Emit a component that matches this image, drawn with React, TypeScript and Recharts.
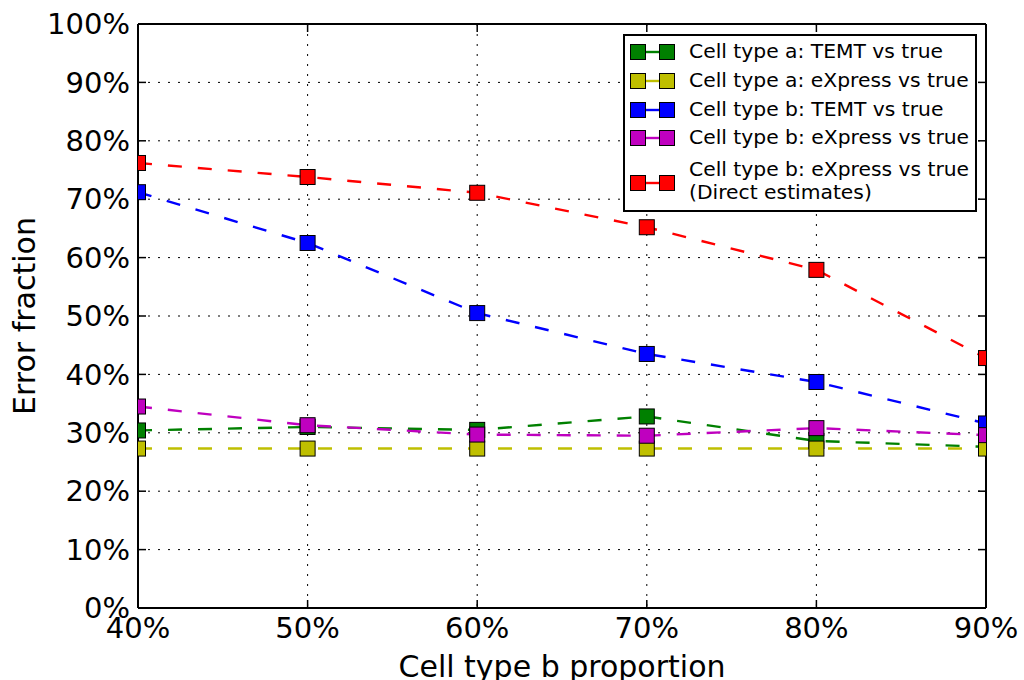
import { LineChart, Line, XAxis, YAxis, CartesianGrid } from "recharts";

const FONT = "'DejaVu Sans', sans-serif";

// Cell type b proportion (%)
const proportions = [40, 50, 60, 70, 80, 90];
const yTicks = [0, 10, 20, 30, 40, 50, 60, 70, 80, 90, 100];

// error fraction (%)
const aTemt = [30.4, 31.0, 30.5, 32.8, 28.6, 27.6];
const aExpress = [27.3, 27.3, 27.3, 27.3, 27.3, 27.3];
const bTemt = [71.2, 62.5, 50.5, 43.5, 38.7, 31.6];
const bExpress = [34.5, 31.3, 29.7, 29.5, 30.8, 29.6];
const bDirect = [76.2, 73.8, 71.1, 65.2, 57.9, 42.8];

const series = [
  { key: "aTemt", label: ["Cell type a: TEMT vs true"], color: "#008000", values: aTemt },
  { key: "aExpress", label: ["Cell type a: eXpress vs true"], color: "#bfbf00", values: aExpress },
  { key: "bTemt", label: ["Cell type b: TEMT vs true"], color: "#0000ff", values: bTemt },
  { key: "bExpress", label: ["Cell type b: eXpress vs true"], color: "#bf00bf", values: bExpress },
  {
    key: "bDirect",
    label: ["Cell type b: eXpress vs true", "(Direct estimates)"],
    color: "#ff0000",
    values: bDirect,
  },
];

const data = proportions.map((p, i) => {
  const row: Record<string, number> = { p };
  series.forEach((s) => (row[s.key] = s.values[i]));
  return row;
});

const pct = (v: number) => `${v}%`;

const square = (color: string) => (props: any) => {
  const { cx, cy, index } = props;
  if (cx == null || cy == null) return <g key={`d-${index}`} />;
  return (
    <rect
      key={`d-${index}`}
      x={cx - 7.5}
      y={cy - 7.5}
      width={15}
      height={15}
      fill={color}
      stroke="#000"
      strokeWidth={1}
    />
  );
};

const tickStyle = { fill: "#000", fontSize: 29, fontFamily: FONT };
const axisLine = { stroke: "#000", strokeWidth: 2 };
const tickLine = { stroke: "#000", strokeWidth: 1.5 };

// row centres inside the legend box
const rowTops = [16, 45, 74, 102, 134];

function LegendBox() {
  return (
    <div
      style={{
        position: "absolute",
        left: 623,
        top: 34,
        width: 354,
        height: 178,
        boxSizing: "border-box",
        border: "2px solid #000",
        background: "#fff",
        fontFamily: FONT,
        fontSize: 20.3,
        color: "#000",
      }}
    >
      {series.map((s, i) => {
        const markerY = s.label.length > 1 ? 147 : rowTops[i];
        return (
          <div key={s.key}>
            <svg
              width={46}
              height={18}
              style={{ position: "absolute", left: 5, top: markerY - 9 }}
            >
              <line x1={8} y1={9} x2={37} y2={9} stroke={s.color} strokeWidth={2.4} />
              <rect x={0.5} y={1.5} width={15} height={15} fill={s.color} stroke="#000" />
              <rect x={29.5} y={1.5} width={15} height={15} fill={s.color} stroke="#000" />
            </svg>
            <div
              style={{
                position: "absolute",
                left: 64,
                top: rowTops[i] - 12,
                lineHeight: "23px",
                whiteSpace: "nowrap",
              }}
            >
              {s.label.map((t) => (
                <div key={t}>{t}</div>
              ))}
            </div>
          </div>
        );
      })}
    </div>
  );
}

export default function App() {
  return (
    <div
      style={{
        position: "absolute",
        left: 0,
        top: 0,
        width: 1024,
        height: 680,
        overflow: "hidden",
        background: "#fff",
      }}
    >
      <LineChart width={1024} height={680} data={data} margin={{ top: 0, right: 0, bottom: 0, left: 0 }}>
        <XAxis
          dataKey="p"
          type="number"
          domain={[40, 90]}
          ticks={proportions}
          allowDataOverflow
          interval={0}
          tickFormatter={pct}
          height={72}
          tickSize={-8}
          tickMargin={17}
          axisLine={axisLine}
          tickLine={tickLine}
          tick={tickStyle}
          label={{
            value: "Cell type b proportion",
            position: "insideBottom",
            offset: 3,
            fill: "#000",
            fontSize: 30,
            fontFamily: FONT,
          }}
        />
        <XAxis
          xAxisId="top"
          orientation="top"
          dataKey="p"
          type="number"
          domain={[40, 90]}
          ticks={proportions}
          allowDataOverflow
          interval={0}
          tickFormatter={() => ""}
          height={24}
          tickSize={-8}
          axisLine={axisLine}
          tickLine={tickLine}
        />
        <YAxis
          type="number"
          domain={[0, 100]}
          ticks={yTicks}
          allowDataOverflow
          interval={0}
          tickFormatter={pct}
          width={138}
          tickSize={-8}
          tickMargin={16}
          axisLine={axisLine}
          tickLine={tickLine}
          tick={tickStyle}
          label={{
            content: () => (
              <text
                x={35}
                y={316}
                transform="rotate(-90 35 316)"
                textAnchor="middle"
                fill="#000"
                fontSize={30}
                fontFamily={FONT}
              >
                Error fraction
              </text>
            ),
          }}
        />
        <YAxis
          yAxisId="right"
          orientation="right"
          type="number"
          domain={[0, 100]}
          ticks={yTicks}
          allowDataOverflow
          interval={0}
          tickFormatter={() => ""}
          width={38}
          tickSize={-8}
          axisLine={axisLine}
          tickLine={tickLine}
        />
        {series.map((s) => (
          <Line
            key={s.key}
            type="linear"
            dataKey={s.key}
            stroke={s.color}
            strokeWidth={2.4}
            strokeDasharray="14 16"
            dot={square(s.color)}
            activeDot={false}
            isAnimationActive={false}
          />
        ))}
        <CartesianGrid stroke="#000" strokeWidth={1} strokeDasharray="2 8" fill="none" />
      </LineChart>
      <LegendBox />
    </div>
  );
}
